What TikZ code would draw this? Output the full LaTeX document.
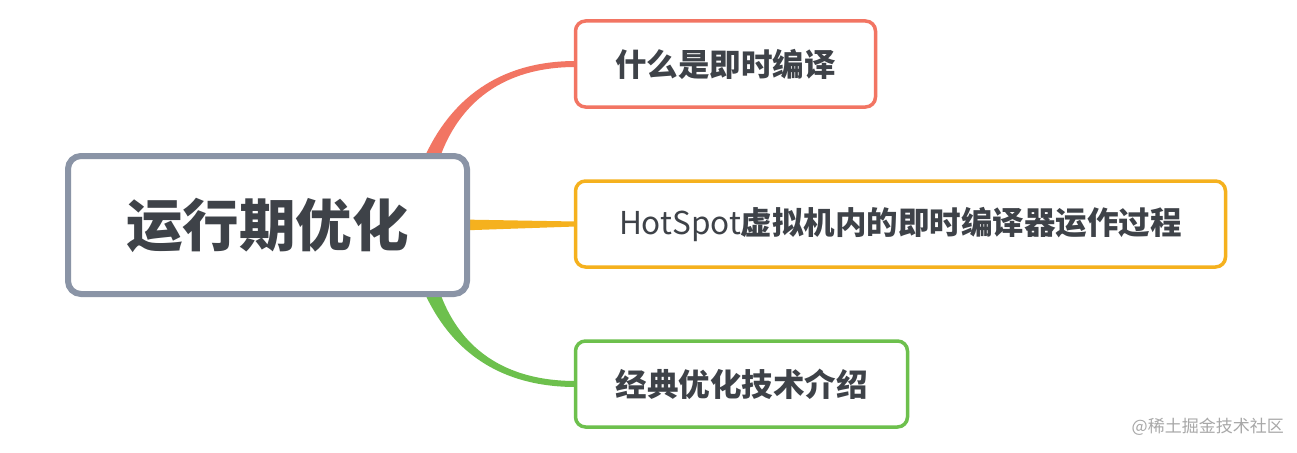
\documentclass[tikz,border=0pt]{standalone}
\usepackage{fontspec}
\newfontfamily\cjk{Noto Sans CJK SC}
\usetikzlibrary{backgrounds,calc}
\definecolor{cred}{HTML}{F27563}
\definecolor{corange}{HTML}{F5B11E}
\definecolor{cgreen}{HTML}{6DC04D}
\definecolor{cgray}{HTML}{8A94A6}
\definecolor{ctext}{HTML}{3E4248}
\definecolor{cwm}{HTML}{A8A8A8}
\begin{document}
\begin{tikzpicture}[x=1pt,y=-1pt,
  box/.style={draw, rounded corners=10pt, line width=3.5pt, fill=white,
    minimum height=86pt, inner sep=0pt, text=ctext, anchor=west,
    font=\cjk\bfseries\fontsize{31.5}{31.5}\selectfont},
  rootbox/.style={draw=cgray, rounded corners=13pt, line width=6pt, fill=white,
    minimum width=399pt, minimum height=138pt, inner sep=0pt, text=ctext,
    font=\cjk\bfseries\fontsize{56.5}{56.5}\selectfont}]
\useasboundingbox (0,0) rectangle (1297,452);
\node[rootbox] (root) at (267.5,225) {运行期优化};
\node[box, draw=cred, minimum width=300pt] (a) at (573.75,64) {什么是即时编译};
\node[box, draw=corange, minimum width=650pt] (b) at (573.75,224) {\mdseries HotSpot\bfseries 虚拟机内的即时编译器运作过程};
\node[box, draw=cgreen, minimum width=332pt] (c) at (573.75,384) {经典优化技术介绍};
\node[text=cwm, font=\cjk\fontsize{17}{17}\selectfont, anchor=east, inner sep=0pt] (wm) at (1284,427) {@稀土掘金技术社区};
\begin{scope}[on background layer]
\fill[white] (0,0) rectangle (1297,452);
\fill[cred] ($(root.north east)+(-48,10)$) .. controls +(23,-55) and +(-85,0) .. ($(a.west)+(2,-3)$)
  -- ++(0,6) .. controls +(-80,0) and +(17,-53) .. ($(root.north east)+(-32,10)$) -- cycle;
\fill[cgreen] ($(root.south east)+(-48,-10)$) .. controls +(23,55) and +(-85,0) .. ($(c.west)+(2,3)$)
  -- ++(0,-6) .. controls +(-80,0) and +(17,53) .. ($(root.south east)+(-32,-10)$) -- cycle;
\fill[corange] ($(root.east)+(-10,-5.5)$) -- ($(b.west)+(2,-2.5)$) -- ++(0,5)
  -- ($(root.east)+(-10,5.5)$) -- cycle;
\end{scope}
\end{tikzpicture}
\end{document}
